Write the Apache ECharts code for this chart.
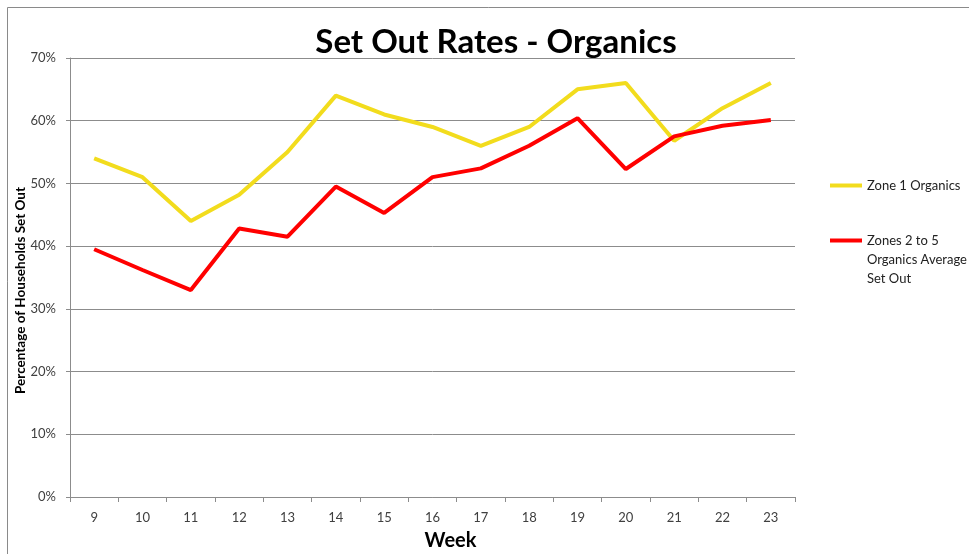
<!DOCTYPE html>
<html>
<head>
<meta charset="utf-8">
<script src="https://cdn.jsdelivr.net/npm/echarts@6/dist/echarts.min.js"></script>
<style>
  html, body { margin: 0; padding: 0; background: #fff; }
  #chart { width: 969px; height: 554px; }
</style>
</head>
<body>
<div id="chart"></div>
<script>
// weeks on the x axis
const weeks = ['9', '10', '11', '12', '13', '14', '15', '16', '17', '18', '19', '20', '21', '22', '23'];
// set out rates, in percent
const zone1 = [54, 51, 44, 48.2, 55, 64, 61, 59, 56, 59, 65, 66, 56.8, 62, 66];
const zones2to5 = [39.5, 36.2, 33, 42.8, 41.5, 49.5, 45.3, 51, 52.4, 56, 60.4, 52.3, 57.5, 59.2, 60.1];
const seriesNames = ['Zone 1 Organics', 'Zones 2 to 5\nOrganics Average\nSet Out'];

const chart = echarts.init(document.getElementById('chart'));
const font = 'Lato, "Open Sans", sans-serif';

const option = {
    backgroundColor: '#fff',
    animation: false,
    textStyle: { fontFamily: font },
    title: {
        text: 'Set Out Rates - Organics',
        left: 491,
        textAlign: 'center',
        top: 21,
        textStyle: { fontSize: 33, fontWeight: 'bold', color: '#000', fontFamily: font }
    },
    graphic: [{
        type: 'rect',
        shape: { x: 7.5, y: 7.5, width: 1100, height: 700 },
        style: { fill: 'none', stroke: '#8a8a8a', lineWidth: 1 },
        silent: true
    }],
    legend: [
        {
            data: [seriesNames[0]],
            left: 825,
            top: 174,
            icon: 'rect',
            itemWidth: 32,
            itemHeight: 4,
            textStyle: { fontSize: 13, color: '#222' }
        },
        {
            data: [seriesNames[1]],
            left: 825,
            top: 188,
            icon: 'rect',
            itemWidth: 32,
            itemHeight: 4,
            // blank lines first so the marker sits beside the first text line
            formatter: (name) => '\n\n' + name,
            textStyle: { fontSize: 13, color: '#222', lineHeight: 19 }
        }
    ],
    grid: { left: 70, right: 174, top: 58, bottom: 57, outerBoundsMode: 'none' },
    xAxis: {
        type: 'category',
        data: weeks,
        boundaryGap: true,
        name: 'Week',
        nameLocation: 'middle',
        nameGap: 34,
        nameTextStyle: { fontSize: 20, fontWeight: 'bold', color: '#000', fontFamily: font, padding: [0, 0, 0, 36] },
        axisLine: { lineStyle: { color: '#8c8c8c', width: 1 } },
        axisTick: { show: true, length: 5, lineStyle: { color: '#8c8c8c' } },
        axisLabel: { fontSize: 13, color: '#404040', margin: 14 }
    },
    yAxis: {
        type: 'value',
        min: 0,
        max: 70,
        interval: 10,
        name: 'Percentage of Households Set Out',
        nameLocation: 'middle',
        nameGap: 42,
        nameRotate: 90,
        nameMoveOverlap: false,
        nameTextStyle: { fontSize: 13.5, fontWeight: 'bold', color: '#000', fontFamily: font, padding: [0, 26, 0, 0] },
        axisLine: { show: true, lineStyle: { color: '#8c8c8c', width: 1 } },
        axisTick: { show: true, length: 4, lineStyle: { color: '#8c8c8c' } },
        axisLabel: { fontSize: 13, color: '#404040', margin: 14, formatter: '{value}%' },
        splitLine: { lineStyle: { color: '#8c8c8c', width: 1 } }
    },
    series: [
        {
            name: seriesNames[0],
            type: 'line',
            data: zone1,
            symbol: 'none',
            lineStyle: { color: '#f2dc1d', width: 4 },
            itemStyle: { color: '#f2dc1d' },
            z: 2
        },
        {
            name: seriesNames[1],
            type: 'line',
            data: zones2to5,
            symbol: 'none',
            lineStyle: { color: '#ff0000', width: 4 },
            itemStyle: { color: '#ff0000' },
            z: 3
        }
    ]
};
chart.setOption(option);
</script>
</body>
</html>
